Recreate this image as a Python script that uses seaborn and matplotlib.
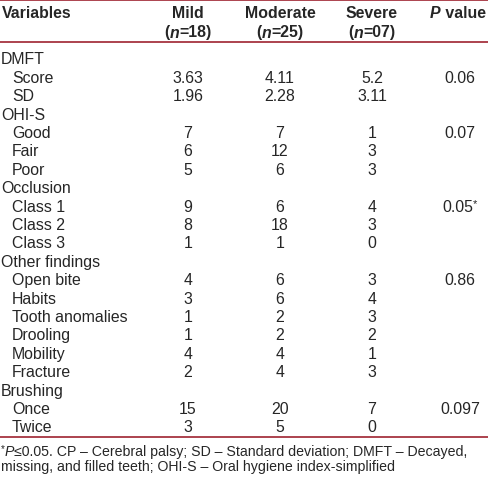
import seaborn as sns
import matplotlib.pyplot as plt

# table content
groups = ["DMFT", "OHI-S", "Occlusion", "Other findings", "Brushing"]
items = [
    ["Score", "SD"],
    ["Good", "Fair", "Poor"],
    ["Class 1", "Class 2", "Class 3"],
    ["Open bite", "Habits", "Tooth anomalies", "Drooling", "Mobility", "Fracture"],
    ["Once", "Twice"],
]
mild = ["3.63", "1.96", "7", "6", "5", "9", "8", "1", "4", "3", "1", "1", "4", "2", "15", "3"]
moderate = ["4.11", "2.28", "7", "12", "6", "6", "18", "1", "6", "6", "2", "2", "4", "4", "20", "5"]
severe = ["5.2", "3.11", "1", "3", "3", "4", "3", "0", "3", "4", "3", "2", "1", "3", "7", "0"]
pvals = ["0.06", "0.07", "0.05", "0.86", "0.097"]
p_star = [False, False, True, False, False]
col_names = ["Mild", "Moderate", "Severe"]
col_n = ["18", "25", "07"]
footnote = ["CP \u2013 Cerebral palsy; SD \u2013 Standard deviation; DMFT \u2013 Decayed,",
            "missing, and filled teeth; OHI-S \u2013 Oral hygiene index-simplified"]

sns.set_style("white")
plt.rcParams['font.family'] = ['Liberation Sans', 'DejaVu Sans']

W, H = 488, 481
fig = plt.figure(figsize=(W / 100, H / 100), dpi=100)
ax = fig.add_axes([0, 0, 1, 1])
ax.set_xlim(0, W)
ax.set_ylim(H, 0)
ax.axis('off')

fs = 11.4
fs_note = 10.2
txt = '#262626'
red = '#a63440'
col_x = [188, 280, 372]
p_x = 460
row0, step = 60, 18.4
renderer = fig.canvas.get_renderer()


def draw_parts(x, y, parts, ha='center', size=fs):
    # parts: list of (text, kwargs); place them one after another
    objs = []
    widths = []
    for s, kw in parts:
        t = ax.text(0, y, s, va='center', ha='left', color=txt,
                    fontsize=kw.get('size', size), fontweight=kw.get('weight', 'normal'),
                    fontstyle=kw.get('style', 'normal'))
        bb = t.get_window_extent(renderer)
        objs.append((t, kw))
        widths.append(bb.width)
    total = sum(widths)
    start = x - total / 2 if ha == 'center' else x
    for (t, kw), w in zip(objs, widths):
        t.set_x(start)
        if 'dy' in kw:
            t.set_y(y + kw['dy'])
        start += w


# rules
ax.plot([0, W], [1, 1], color=red, lw=1.3)
ax.plot([0, W], [43, 43], color=red, lw=1.3)
ax.plot([0, W], [438, 438], color=red, lw=1.3)

# header
ax.text(2, 13, "Variables", fontsize=fs, fontweight='bold', va='center', color=txt)
for name, n, x in zip(col_names, col_n, col_x):
    ax.text(x, 13, name, fontsize=fs, fontweight='bold', ha='center', va='center', color=txt)
    draw_parts(x, 33, [("(", {'weight': 'bold'}), ("n", {'weight': 'bold', 'style': 'italic'}),
                       ("=" + n + ")", {'weight': 'bold'})])
draw_parts(458, 13, [("P", {'weight': 'bold', 'style': 'italic'}), (" value", {'weight': 'bold'})])

# body
r = 0
k = 0
for g, sub, p, star in zip(groups, items, pvals, p_star):
    y = row0 + r * step
    ax.text(1, y, g, fontsize=fs, va='center', color=txt)
    r += 1
    for j, it in enumerate(sub):
        y = row0 + r * step
        ax.text(12, y, it, fontsize=fs, va='center', color=txt)
        for x, vals in zip(col_x, [mild, moderate, severe]):
            ax.text(x, y, vals[k], fontsize=fs, ha='center', va='center', color=txt)
        if j == 0:
            if star:
                draw_parts(p_x, y, [(p, {}), ("*", {'size': fs * 0.7, 'dy': -3})])
            else:
                ax.text(p_x, y, p, fontsize=fs, ha='center', va='center', color=txt)
        r += 1
        k += 1

# footnote
draw_parts(1, 452, [("*", {'size': fs_note * 0.7, 'dy': -3}), ("P", {'style': 'italic'}),
                    ("\u22640.05. " + footnote[0], {})], ha='left', size=fs_note)
ax.text(1, 467, footnote[1], fontsize=fs_note, va='center', color=txt)

fig.savefig("out.png", dpi=100)
